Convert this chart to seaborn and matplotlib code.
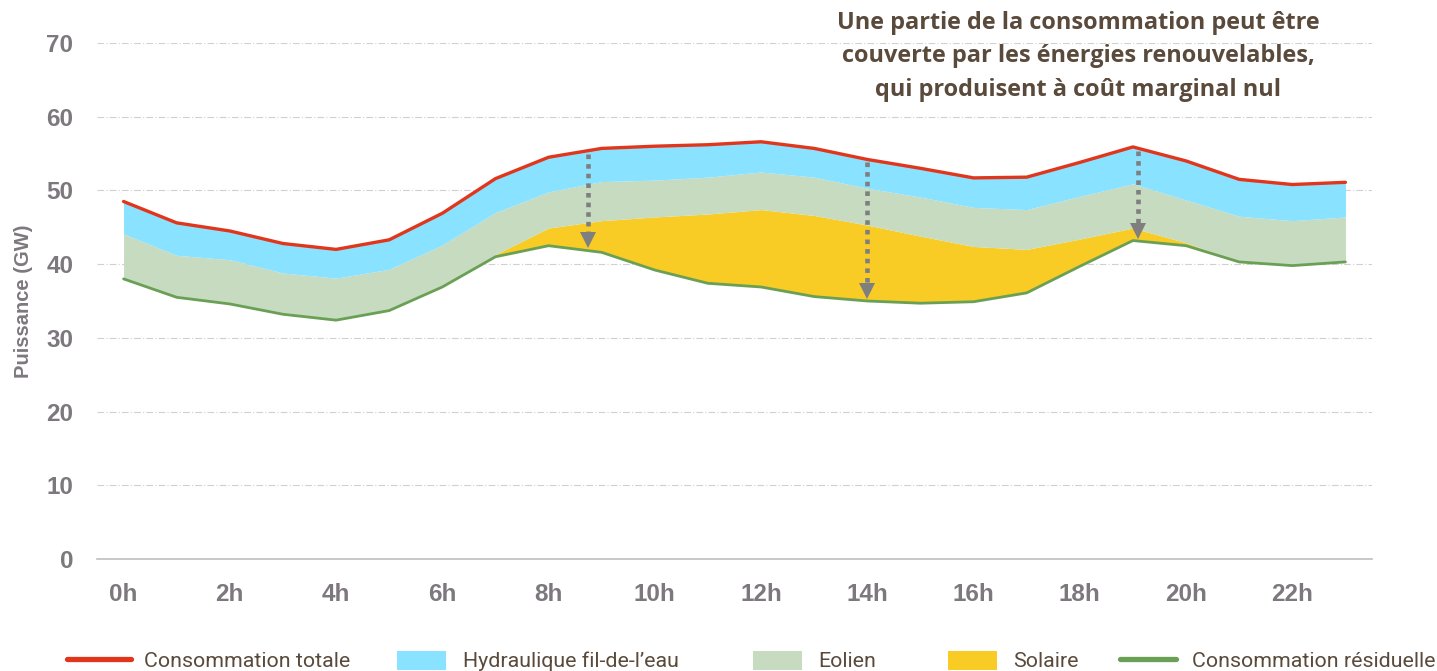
import numpy as np
import pandas as pd
import matplotlib
matplotlib.use("Agg")
import matplotlib.pyplot as plt
import seaborn as sns
from matplotlib.lines import Line2D
from matplotlib.patches import Patch

# ---------------- data ----------------
hours = list(range(24))
tick_hours = list(range(0, 24, 2))
tick_labels = [f"{h}h" for h in tick_hours]
total = [48.5, 45.6, 44.5, 42.8, 42.0, 43.3, 46.9, 51.6, 54.5, 55.7, 56.0, 56.2,
         56.6, 55.7, 54.2, 53.0, 51.7, 51.8, 53.8, 55.9, 54.0, 51.5, 50.8, 51.1]
hydro = [4.4, 4.4, 3.9, 4.0, 3.9, 4.0, 4.3, 4.6, 4.7, 4.5, 4.6, 4.4,
         4.1, 3.9, 3.9, 3.9, 4.0, 4.4, 4.6, 5.0, 5.3, 5.0, 4.9, 4.7]
eolien = [6.1, 5.7, 6.0, 5.6, 5.7, 5.6, 5.7, 5.7, 4.9, 5.3, 5.0, 5.0,
          5.1, 5.2, 5.0, 5.3, 5.3, 5.4, 5.8, 6.0, 5.8, 6.2, 6.1, 6.1]
solaire = [0, 0, 0, 0, 0, 0, 0, 0.3, 2.4, 4.3, 7.2, 9.4,
           10.5, 11.0, 10.3, 9.1, 7.5, 5.9, 3.7, 1.7, 0.4, 0, 0, 0]
arrow_hours = [8.75, 14.0, 19.1]
title_text = ("Une partie de la consommation peut être\n"
              "couverte par les énergies renouvelables,\n"
              "qui produisent à coût marginal nul")
legend_labels = ["Consommation totale", "Hydraulique fil-de-l\u2019eau", "Eolien",
                 "Solaire", "Consommation résiduelle"]

# ---------------- style ----------------
C_RED = "#E2361C"
C_HYD = "#89E2FF"
C_WIND = "#C6DBBF"
C_SOL = "#F9CB25"
C_RES = "#6AA055"
C_GRAY = "#7D787D"
C_ARROW = "#7F7F7F"
C_TXT = "#5A4A3C"
W, H = 1437, 671

sns.set_theme(style="white")
plt.rcParams["font.family"] = ["Liberation Sans", "DejaVu Sans"]

df = pd.DataFrame({"h": hours, "total": total, "hydro": hydro,
                   "eolien": eolien, "solaire": solaire})
df["residuelle"] = df["total"] - df["hydro"] - df["eolien"] - df["solaire"]
s_top = df["residuelle"] + df["solaire"]
w_top = s_top + df["eolien"]

fig = plt.figure(figsize=(W / 100, H / 100), dpi=100)
ax = fig.add_axes([97 / W, 1 - 559 / H, (1372 - 97) / W, (559 - 43) / H])

ax.fill_between(df["h"], df["residuelle"], s_top, color=C_SOL, lw=0, zorder=2)
ax.fill_between(df["h"], s_top, w_top, color=C_WIND, lw=0, zorder=2)
ax.fill_between(df["h"], w_top, df["total"], color=C_HYD, lw=0, zorder=2)

sns.lineplot(data=df, x="h", y="total", color=C_RED, lw=2.4, ax=ax, zorder=4)
sns.lineplot(data=df, x="h", y="residuelle", color=C_RES, lw=2.0, ax=ax, zorder=4)

# arrows
for xa in arrow_hours:
    top = np.interp(xa, df["h"], df["total"]) - 0.4
    tip = np.interp(xa, df["h"], df["residuelle"]) + 0.3
    base = tip + 2.2
    ax.plot([xa, xa], [top, base], color=C_ARROW, lw=3.3,
            linestyle=(0, (1, 1.1)), dash_capstyle="butt", zorder=5)
    ax.plot([xa], [tip + 1.1], marker="v", markersize=12, color=C_ARROW,
            markeredgewidth=0, zorder=5)

ax.set_xlim(-0.5, 23.5)
ax.set_ylim(0, 70)
ax.set_yticks(range(0, 71, 10))
ax.set_xticks(tick_hours)
ax.set_xticklabels(tick_labels)
ax.yaxis.grid(True, color="#D0D0D0", lw=0.8, linestyle=(0, (6, 2, 1, 2)), zorder=0)
ax.xaxis.grid(False)
for sp in ["top", "right", "left"]:
    ax.spines[sp].set_visible(False)
ax.spines["bottom"].set_color("#BFBFBF")
ax.spines["bottom"].set_linewidth(1.2)
ax.spines["bottom"].set_zorder(1)
ax.tick_params(axis="both", length=0, labelsize=17.5, colors=C_GRAY)
ax.tick_params(axis="y", pad=17)
ax.tick_params(axis="x", pad=17)
for lab in ax.get_xticklabels() + ax.get_yticklabels():
    lab.set_fontweight("bold")
ax.set_xlabel("")
ax.set_ylabel("Puissance (GW)", fontsize=14.5, fontweight="bold", color=C_GRAY, labelpad=10)

fig.text(1078 / W, 1 - 11 / H, title_text, ha="center", va="top", fontsize=16.9,
         fontweight="bold", color=C_TXT, linespacing=1.52,
         family=["Open Sans", "DejaVu Sans"])

handles = [Line2D([], [], color=C_RED, lw=3.8),
           Patch(facecolor=C_HYD, edgecolor="none"),
           Patch(facecolor=C_WIND, edgecolor="none"),
           Patch(facecolor=C_SOL, edgecolor="none"),
           Line2D([], [], color=C_RES, lw=3.8)]
leg_x = [67, 397, 753, 948, 1120]
leg_hl = [3.0, 2.3, 2.3, 2.3, 2.6]
leg_pad = [0.6, 0.8, 0.75, 0.75, 0.75]
for hnd, lab, x0, hl, tp in zip(handles, legend_labels, leg_x, leg_hl, leg_pad):
    lg = fig.legend([hnd], [lab], loc="center left", bbox_to_anchor=(x0 / W, 1 - 661 / H),
                    frameon=False, handlelength=hl, handleheight=1.0,
                    handletextpad=tp, borderpad=0, borderaxespad=0,
                    prop={"family": ["Roboto", "DejaVu Sans"], "size": 15.4})
    for t in lg.get_texts():
        t.set_color(C_TXT)

fig.savefig("out.png", dpi=100, facecolor="white")
